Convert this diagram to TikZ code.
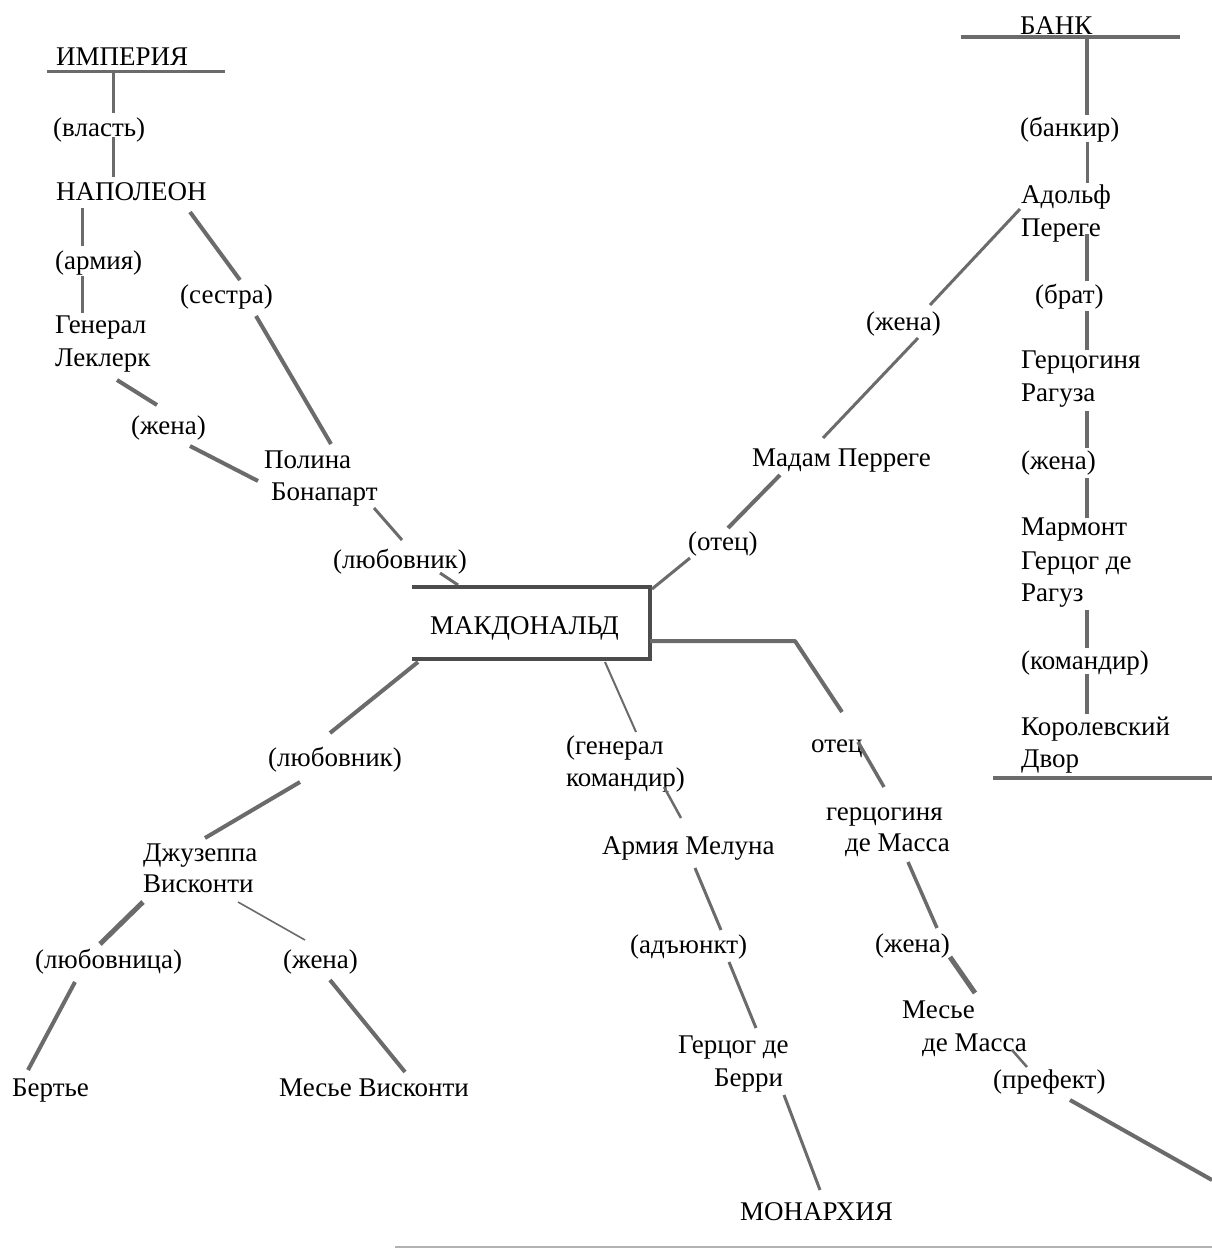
\documentclass[tikz,border=0pt]{standalone}
\usepackage{fontspec}
\IfFontExistsTF{LiberationSerif-Regular.ttf}
  {\newfontfamily\labelfont{LiberationSerif-Regular.ttf}}
  {\newfontfamily\labelfont{Liberation Serif}}
\begin{document}
\begin{tikzpicture}[x=1pt,y=-1pt,
  ln/.style={draw=black!58,line width=#1},
  ln/.default=3.5pt,
  frame/.style={draw=black!70,line width=4.5pt}]
\useasboundingbox[fill=white] (0,0) rectangle (1212,1250);

% ---------- text (one node per printed line) ----------
\node[anchor=west,inner sep=0pt,text height=19pt,text depth=7pt,font=\labelfont\fontsize{27}{33}\selectfont] (imp)   at (56,59)   {ИМПЕРИЯ};
\node[anchor=west,inner sep=0pt,text height=19pt,text depth=7pt,font=\labelfont\fontsize{27}{33}\selectfont] (vlast) at (53,130)  {(власть)};
\node[anchor=west,inner sep=0pt,text height=19pt,text depth=7pt,font=\labelfont\fontsize{27}{33}\selectfont] (nap)   at (56,194)  {НАПОЛЕОН};
\node[anchor=west,inner sep=0pt,text height=19pt,text depth=7pt,font=\labelfont\fontsize{27}{33}\selectfont] (army)  at (55,263)  {(армия)};
\node[anchor=west,inner sep=0pt,text height=19pt,text depth=7pt,font=\labelfont\fontsize{27}{33}\selectfont] (lecA)  at (55,327)  {Генерал};
\node[anchor=west,inner sep=0pt,text height=19pt,text depth=7pt,font=\labelfont\fontsize{27}{33}\selectfont] (lecB)  at (55,360)  {Леклерк};
\node[anchor=west,inner sep=0pt,text height=19pt,text depth=7pt,font=\labelfont\fontsize{27}{33}\selectfont] (sis)   at (180,297) {(сестра)};
\node[anchor=west,inner sep=0pt,text height=19pt,text depth=7pt,font=\labelfont\fontsize{27}{33}\selectfont] (wifeL) at (131,428) {(жена)};
\node[anchor=west,inner sep=0pt,text height=19pt,text depth=7pt,font=\labelfont\fontsize{27}{33}\selectfont] (polA)  at (264,462) {Полина};
\node[anchor=west,inner sep=0pt,text height=19pt,text depth=7pt,font=\labelfont\fontsize{27}{33}\selectfont] (polB)  at (271,494) {Бонапарт};
\node[anchor=west,inner sep=0pt,text height=19pt,text depth=7pt,font=\labelfont\fontsize{27}{33}\selectfont] (lovA)  at (333,562) {(любовник)};
\node[anchor=west,inner sep=0pt,text height=19pt,text depth=7pt,font=\labelfont\fontsize{27}{33}\selectfont] (mac)   at (430,628) {МАКДОНАЛЬД};

\node[anchor=west,inner sep=0pt,text height=19pt,text depth=7pt,font=\labelfont\fontsize{27}{33}\selectfont] (lovB)  at (268,760) {(любовник)};
\node[anchor=west,inner sep=0pt,text height=19pt,text depth=7pt,font=\labelfont\fontsize{27}{33}\selectfont] (giuA)  at (143,855) {Джузеппа};
\node[anchor=west,inner sep=0pt,text height=19pt,text depth=7pt,font=\labelfont\fontsize{27}{33}\selectfont] (giuB)  at (143,886) {Висконти};
\node[anchor=west,inner sep=0pt,text height=19pt,text depth=7pt,font=\labelfont\fontsize{27}{33}\selectfont] (mis)   at (35,962)  {(любовница)};
\node[anchor=west,inner sep=0pt,text height=19pt,text depth=7pt,font=\labelfont\fontsize{27}{33}\selectfont] (bert)  at (12,1090) {Бертье};
\node[anchor=west,inner sep=0pt,text height=19pt,text depth=7pt,font=\labelfont\fontsize{27}{33}\selectfont] (wifeV) at (283,962) {(жена)};
\node[anchor=west,inner sep=0pt,text height=19pt,text depth=7pt,font=\labelfont\fontsize{27}{33}\selectfont] (msv)   at (279,1090){Месье Висконти};

\node[anchor=west,inner sep=0pt,text height=19pt,text depth=7pt,font=\labelfont\fontsize{27}{33}\selectfont] (genA)  at (566,748) {(генерал};
\node[anchor=west,inner sep=0pt,text height=19pt,text depth=7pt,font=\labelfont\fontsize{27}{33}\selectfont] (genB)  at (566,780) {командир)};
\node[anchor=west,inner sep=0pt,text height=19pt,text depth=7pt,font=\labelfont\fontsize{27}{33}\selectfont] (mel)   at (602,848) {Армия Мелуна};
\node[anchor=west,inner sep=0pt,text height=19pt,text depth=7pt,font=\labelfont\fontsize{27}{33}\selectfont] (adj)   at (630,947) {(адъюнкт)};
\node[anchor=west,inner sep=0pt,text height=19pt,text depth=7pt,font=\labelfont\fontsize{27}{33}\selectfont] (berA)  at (678,1047){Герцог де};
\node[anchor=west,inner sep=0pt,text height=19pt,text depth=7pt,font=\labelfont\fontsize{27}{33}\selectfont] (berB)  at (714,1080){Берри};
\node[anchor=west,inner sep=0pt,text height=19pt,text depth=7pt,font=\labelfont\fontsize{27}{33}\selectfont] (mon)   at (740,1214){МОНАРХИЯ};

\node[anchor=west,inner sep=0pt,text height=19pt,text depth=7pt,font=\labelfont\fontsize{27}{33}\selectfont] (fath)  at (811,746) {отец};
\node[anchor=west,inner sep=0pt,text height=19pt,text depth=7pt,font=\labelfont\fontsize{27}{33}\selectfont] (dmsA)  at (826,814) {герцогиня};
\node[anchor=west,inner sep=0pt,text height=19pt,text depth=7pt,font=\labelfont\fontsize{27}{33}\selectfont] (dmsB)  at (845,845) {де Масса};
\node[anchor=west,inner sep=0pt,text height=19pt,text depth=7pt,font=\labelfont\fontsize{27}{33}\selectfont] (wifeM) at (875,946) {(жена)};
\node[anchor=west,inner sep=0pt,text height=19pt,text depth=7pt,font=\labelfont\fontsize{27}{33}\selectfont] (msmA)  at (902,1012){Месье};
\node[anchor=west,inner sep=0pt,text height=19pt,text depth=7pt,font=\labelfont\fontsize{27}{33}\selectfont] (msmB)  at (922,1045){де Масса};
\node[anchor=west,inner sep=0pt,text height=19pt,text depth=7pt,font=\labelfont\fontsize{27}{33}\selectfont] (pref)  at (993,1082){(префект)};

\node[anchor=west,inner sep=0pt,text height=19pt,text depth=7pt,font=\labelfont\fontsize{27}{33}\selectfont] (fathB) at (688,544) {(отец)};
\node[anchor=west,inner sep=0pt,text height=19pt,text depth=7pt,font=\labelfont\fontsize{27}{33}\selectfont] (mad)   at (752,460) {Мадам Перреге};
\node[anchor=west,inner sep=0pt,text height=19pt,text depth=7pt,font=\labelfont\fontsize{27}{33}\selectfont] (wifeA) at (866,324) {(жена)};

\node[anchor=west,inner sep=0pt,text height=19pt,text depth=7pt,font=\labelfont\fontsize{27}{33}\selectfont] (bank)  at (1020,28) {БАНК};
\node[anchor=west,inner sep=0pt,text height=19pt,text depth=7pt,font=\labelfont\fontsize{27}{33}\selectfont] (bkr)   at (1020,130){(банкир)};
\node[anchor=west,inner sep=0pt,text height=19pt,text depth=7pt,font=\labelfont\fontsize{27}{33}\selectfont] (adoA)  at (1021,197){Адольф};
\node[anchor=west,inner sep=0pt,text height=19pt,text depth=7pt,font=\labelfont\fontsize{27}{33}\selectfont] (adoB)  at (1021,230){Переге};
\node[anchor=west,inner sep=0pt,text height=19pt,text depth=7pt,font=\labelfont\fontsize{27}{33}\selectfont] (bro)   at (1035,297){(брат)};
\node[anchor=west,inner sep=0pt,text height=19pt,text depth=7pt,font=\labelfont\fontsize{27}{33}\selectfont] (drA)   at (1021,362){Герцогиня};
\node[anchor=west,inner sep=0pt,text height=19pt,text depth=7pt,font=\labelfont\fontsize{27}{33}\selectfont] (drB)   at (1021,395){Рагуза};
\node[anchor=west,inner sep=0pt,text height=19pt,text depth=7pt,font=\labelfont\fontsize{27}{33}\selectfont] (wifeR) at (1021,463){(жена)};
\node[anchor=west,inner sep=0pt,text height=19pt,text depth=7pt,font=\labelfont\fontsize{27}{33}\selectfont] (marA)  at (1021,529){Мармонт};
\node[anchor=west,inner sep=0pt,text height=19pt,text depth=7pt,font=\labelfont\fontsize{27}{33}\selectfont] (marB)  at (1021,563){Герцог де};
\node[anchor=west,inner sep=0pt,text height=19pt,text depth=7pt,font=\labelfont\fontsize{27}{33}\selectfont] (marC)  at (1021,595){Рагуз};
\node[anchor=west,inner sep=0pt,text height=19pt,text depth=7pt,font=\labelfont\fontsize{27}{33}\selectfont] (cmd)   at (1021,663){(командир)};
\node[anchor=west,inner sep=0pt,text height=19pt,text depth=7pt,font=\labelfont\fontsize{27}{33}\selectfont] (korA)  at (1021,729){Королевский};
\node[anchor=west,inner sep=0pt,text height=19pt,text depth=7pt,font=\labelfont\fontsize{27}{33}\selectfont] (korB)  at (1021,761){Двор};

% ---------- connector end points ----------
\coordinate (impL) at (47,71);   \coordinate (impR) at (225,71);
\coordinate (impV) at (113,71);  \coordinate (vlT) at (113,113);
\coordinate (vlB) at (113,137);  \coordinate (napT) at (113,177);
\coordinate (napB) at (82,208);  \coordinate (arT) at (82,246);
\coordinate (arB) at (82,276);   \coordinate (lecT) at (82,313);
\coordinate (napR) at (190,212); \coordinate (sisT) at (240,280);
\coordinate (sisB) at (256,316); \coordinate (polT) at (331,444);
\coordinate (lecE) at (117,380); \coordinate (wLT) at (157,405);
\coordinate (wLB) at (190,446);  \coordinate (polL) at (258,481);
\coordinate (polE) at (374,508); \coordinate (lAT) at (402,540);
\coordinate (lAB) at (440,573);  \coordinate (macT) at (458,585);

\coordinate (bxTL) at (412,587); \coordinate (bxTR) at (650,587);
\coordinate (bxBR) at (650,659); \coordinate (bxBL) at (412,659);

\coordinate (bxLB) at (418,662); \coordinate (lBT) at (330,733);
\coordinate (lBB) at (300,782);  \coordinate (giuT) at (205,838);
\coordinate (giuL) at (143,902); \coordinate (misT) at (100,944);
\coordinate (misB) at (75,982);  \coordinate (berT) at (28,1070);
\coordinate (giuR) at (238,902); \coordinate (wVT) at (305,940);
\coordinate (wVB) at (330,980);  \coordinate (msvT) at (405,1072);

\coordinate (bxB) at (605,662);  \coordinate (genT) at (636,732);
\coordinate (genE) at (664,787); \coordinate (melT) at (681,818);
\coordinate (melB) at (695,868); \coordinate (adjT) at (721,930);
\coordinate (adjB) at (729,962); \coordinate (berrT) at (756,1028);
\coordinate (berrB) at (784,1095);\coordinate (monT) at (820,1190);

\coordinate (bxR) at (650,641);  \coordinate (kneeR) at (795,641);
\coordinate (faT) at (842,712);  \coordinate (faB) at (858,742);
\coordinate (dmsT) at (884,787); \coordinate (dmsE) at (908,862);
\coordinate (wMT) at (937,928);  \coordinate (wMB) at (950,957);
\coordinate (msmT) at (975,993); \coordinate (msmE) at (1012,1050);
\coordinate (prT) at (1027,1067);\coordinate (prB) at (1070,1100);
\coordinate (edge) at (1212,1180);

\coordinate (bxTRc) at (652,589);\coordinate (fBT) at (690,558);
\coordinate (fBB) at (728,528);  \coordinate (madT) at (780,475);
\coordinate (madR) at (823,438); \coordinate (wAB) at (918,338);
\coordinate (wAT) at (930,305);  \coordinate (adoL) at (1020,209);

\coordinate (bkL) at (961,37);   \coordinate (bkR) at (1180,37);
\coordinate (bkV) at (1087,37);  \coordinate (bkrT) at (1087,115);
\coordinate (bkrB) at (1087,142);\coordinate (adoT) at (1087,183);
\coordinate (adoE) at (1087,234);\coordinate (broT) at (1087,281);
\coordinate (broB) at (1087,311);\coordinate (drT) at (1087,350);
\coordinate (drE) at (1087,411); \coordinate (wRT) at (1087,448);
\coordinate (wRB) at (1087,478); \coordinate (marT) at (1087,518);
\coordinate (marE) at (1087,610);\coordinate (cmdT) at (1087,648);
\coordinate (cmdB) at (1087,674);\coordinate (korT) at (1087,714);
\coordinate (korL) at (993,778); \coordinate (korR) at (1212,778);

\coordinate (baseL) at (395,1247); \coordinate (baseR) at (1212,1247);

% ---------- connectors ----------
% Napoleon branch
\draw[ln=3pt] (impL) -- (impR);
\draw[ln=3pt] (impV) -- (vlT);
\draw[ln=3pt] (vlB) -- (napT);
\draw[ln=3pt] (napB) -- (arT);
\draw[ln=3pt] (arB) -- (lecT);
\draw[ln=4pt] (napR) -- (sisT);
\draw[ln=4pt] (sisB) -- (polT);
\draw[ln=4pt] (lecE) -- (wLT);
\draw[ln=4pt] (wLB) -- (polL);
\draw[ln=3pt] (polE) -- (lAT);
\draw[ln=3pt] (lAB) -- (macT);

% central frame
\draw[frame] (bxTL) -- (bxTR) -- (bxBR) -- (bxBL);

% Visconti branch
\draw[ln=4pt] (bxLB) -- (lBT);
\draw[ln=4pt] (lBB) -- (giuT);
\draw[ln=5pt] (giuL) -- (misT);
\draw[ln=4pt] (misB) -- (berT);
\draw[ln=1.6pt] (giuR) -- (wVT);
\draw[ln=4pt] (wVB) -- (msvT);

% Melun branch
\draw[ln=2pt] (bxB) -- (genT);
\draw[ln=2.5pt] (genE) -- (melT);
\draw[ln=3pt] (melB) -- (adjT);
\draw[ln=3pt] (adjB) -- (berrT);
\draw[ln=3pt] (berrB) -- (monT);

% de Massa branch
\draw[ln=4pt,line join=round] (bxR) -- (kneeR) -- (faT);
\draw[ln=3.5pt] (faB) -- (dmsT);
\draw[ln=3.5pt] (dmsE) -- (wMT);
\draw[ln=5pt] (wMB) -- (msmT);
\draw[ln=2.5pt] (msmE) -- (prT);
\draw[ln=4pt] (prB) -- (edge);

% Perregaux branch
\draw[ln=3pt] (bxTRc) -- (fBT);
\draw[ln=4pt] (fBB) -- (madT);
\draw[ln=3pt] (madR) -- (wAB);
\draw[ln=3pt] (wAT) -- (adoL);

% bank column
\draw[ln=4pt] (bkL) -- (bkR);
\draw[ln=4pt] (bkV) -- (bkrT);
\draw[ln=3pt] (bkrB) -- (adoT);
\draw[ln=4pt] (adoE) -- (broT);
\draw[ln=4pt] (broB) -- (drT);
\draw[ln=4pt] (drE) -- (wRT);
\draw[ln=4pt] (wRB) -- (marT);
\draw[ln=4pt] (marE) -- (cmdT);
\draw[ln=4pt] (cmdB) -- (korT);
\draw[ln=4pt] (korL) -- (korR);

% base rule
\draw[draw=black!30,line width=2pt] (baseL) -- (baseR);
\end{tikzpicture}
\end{document}
